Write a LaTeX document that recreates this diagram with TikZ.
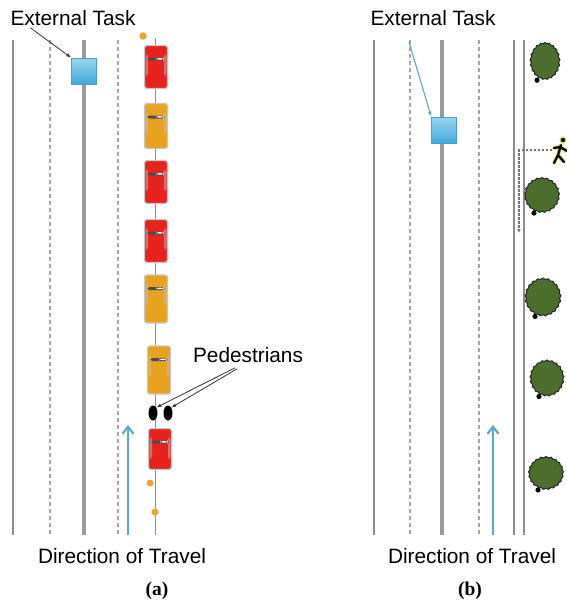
\documentclass[tikz,border=0pt]{standalone}
\usepackage{fontspec}
\setmainfont{Liberation Sans}
\newfontfamily\capfont{Liberation Serif}
\usetikzlibrary{arrows.meta,shapes.symbols,shapes.geometric,calc}

\definecolor{roadgray}{HTML}{8E8E8E}
\definecolor{centergray}{HTML}{9A9A9A}
\definecolor{carred}{HTML}{E8231E}
\definecolor{caryellow}{HTML}{E9A21F}
\definecolor{travelblue}{HTML}{5AA8CB}
\definecolor{boxtop}{HTML}{9AD6F2}
\definecolor{boxbottom}{HTML}{3FA9D8}
\definecolor{boxedge}{HTML}{4C9EC4}
\definecolor{treegreen}{HTML}{4B6E2C}
\definecolor{dotorange}{HTML}{F4A233}
\definecolor{walkeryellow}{HTML}{D8D040}

\tikzset{
  lbl/.style={font=\fontsize{20.8}{24}\selectfont, inner sep=0pt},
  caption/.style={font=\capfont\bfseries\fontsize{19.5}{22}\selectfont, inner sep=0pt},
  edge/.style={roadgray, line width=1.6pt},
  lanemark/.style={roadgray!80, line width=1.6pt, dash pattern=on 4pt off 3pt},
  median/.style={centergray, line width=4.5pt},
  carlink/.style={roadgray, line width=1pt},
  travel/.style={travelblue, line width=2.6pt, -{Straight Barb[length=7pt,width=11pt,line width=2.2pt]}},
  taskbox/.style={rectangle, minimum width=25pt, minimum height=26pt, inner sep=0pt,
    top color=boxtop, bottom color=boxbottom, draw=boxedge, line width=0.6pt},
  car/.style={rectangle, rounded corners=2.5pt, draw=black!22, line width=1.3pt,
    minimum width=23pt, minimum height=43pt, inner sep=0pt,
    path picture={
      \fill[black!25, opacity=0.5] ([xshift=1pt,yshift=-9pt]path picture bounding box.north west)
        rectangle ([xshift=3.5pt,yshift=-30pt]path picture bounding box.north west);
      \fill[black!25, opacity=0.5] ([xshift=-1pt,yshift=-9pt]path picture bounding box.north east)
        rectangle ([xshift=-3.5pt,yshift=-30pt]path picture bounding box.north east);
      \fill[black!70] ([xshift=3pt,yshift=-12pt]path picture bounding box.north west)
        rectangle ([xshift=-3pt,yshift=-15pt]path picture bounding box.north east);
      \fill[white] ([xshift=-11pt,yshift=-12.6pt]path picture bounding box.north east)
        rectangle ([xshift=-4pt,yshift=-14.2pt]path picture bounding box.north east);
    }},
  redcar/.style={car, fill=carred},
  yellowcar/.style={car, fill=caryellow},
  walkerdot/.style={ellipse, fill=black, minimum width=9pt, minimum height=15pt, inner sep=0pt},
  tree/.style={cloud, cloud puffs=21, cloud puff arc=120, aspect=0.95, fill=treegreen,
    draw=black!85, line width=1pt, minimum width=32pt, minimum height=35pt, inner sep=0pt},
  trunk/.style={fill=black},
  signal/.style={circle, fill=dotorange, inner sep=0pt, minimum size=7.5pt},
  pointer/.style={black!80, line width=0.8pt, -{Latex[length=5pt,width=3.5pt]}},
  route/.style={black!55, line width=1.2pt, dash pattern=on 2.5pt off 1.5pt, -{Latex[length=4pt,width=3.5pt]}},
}

\begin{document}
\begin{tikzpicture}[x=1pt, y=-1pt]
\useasboundingbox[fill=white] (0,0) rectangle (566,606);

% ---------------- left road ----------------
\draw[edge] (13,40) -- (13,535);
\draw[lanemark] (50,40) -- (50,535);
\draw[median] (84,40) -- (84,535);
\draw[lanemark] (118,40) -- (118,535);

% queue of cars on the curb lane, linked by a thin line
\coordinate (linkA) at (155,38);
\coordinate (linkB) at (155,535);
\draw[carlink] (linkA) -- (linkB);

\node[redcar]    (c1) at (156,67)  {};
\node[yellowcar, minimum height=45pt] (c2) at (156,126) {};
\node[redcar]    (c3) at (156,182) {};
\node[redcar]    (c4) at (156,241) {};
\node[yellowcar, minimum height=48pt] (c5) at (156,299) {};
\node[yellowcar, minimum height=48pt] (c6) at (159,370) {};
\node[redcar, minimum height=41pt]    (c7) at (160,449) {};

\node[signal] (s1) at (143,36) {};
\node[signal, minimum size=7pt] (s2) at (150,483) {};
\node[signal, minimum size=7pt] (s3) at (155,512) {};

% two pedestrians crossing between the cars
\node[walkerdot] (p1) at (153,413) {};
\node[walkerdot] (p2) at (168,413) {};

\node[lbl] (pedlbl) at (248,355) {Pedestrians};
\draw[pointer] ([xshift=-13pt,yshift=-5pt]pedlbl.south) -- (p1.north east);
\draw[pointer] ([xshift=-11pt,yshift=-6pt]pedlbl.south) -- (p2.north east);

% external task on the median
\node[taskbox] (taskA) at (84,71) {};
\node[lbl] (extA) at (73,18) {External Task};
\draw[pointer] ([xshift=20pt,yshift=-2pt]extA.south west) -- (taskA.north west);

% direction of travel
\coordinate (travA0) at (128,535);
\coordinate (travA1) at (128,425);
\draw[travel] (travA0) -- (travA1);

\node[lbl] (dirA) at (122,556) {Direction of Travel};
\node[caption] (capA) at (157,591) {(a)};

% ---------------- right road ----------------
\draw[edge] (374,40) -- (374,535);
\draw[lanemark] (410,40) -- (410,535);
\draw[median] (442,40) -- (442,535);
\draw[lanemark] (479,40) -- (479,535);
\draw[edge] (514,40) -- (514,535);
\draw[edge] (524,40) -- (524,535);

% trees along the sidewalk
\node[tree, minimum width=30pt, minimum height=37pt] (t1) at (545,61) {};
\node[tree, minimum width=35pt] (t2) at (542,195) {};
\node[tree, minimum width=36pt, minimum height=38pt] (t3) at (543,297) {};
\node[tree, minimum width=34pt, minimum height=36pt] (t4) at (547,378) {};
\node[tree, minimum width=35pt, minimum height=33pt] (t5) at (546,473) {};
\foreach \t in {t1,t2,t3,t4,t5}
  \fill[trunk] ([xshift=-8pt,yshift=-1pt]\t.south) circle (2.6pt);

% pedestrian walking onto the road
\coordinate (walker) at (552,150);
\foreach \w/\c in {3.6pt/walkeryellow, 2.2pt/black}{
  \draw[\c, line width=\w, line cap=round]
    (561,145) -- (558,155) (558,155) -- (554,163) (558,155) -- (564,162)
    (554,148) -- (560,147) -- (567,151);
  \fill[\c] (563,140) circle ({\w*0.95});
}
\coordinate (routeEnd) at (519,233);
\draw[route] (walker) -| (routeEnd);

% external task on the median
\node[taskbox] (taskB) at (444,130) {};
\node[lbl] (extB) at (433,18) {External Task};
\coordinate (taskBline) at (409,42);
\draw[travelblue, line width=1.1pt, -{Latex[length=5pt,width=4pt]}] (taskBline) -- (taskB.north west);

% direction of travel
\coordinate (travB0) at (493,535);
\coordinate (travB1) at (493,425);
\draw[travel] (travB0) -- (travB1);

\node[lbl] (dirB) at (472,556) {Direction of Travel};
\node[caption] (capB) at (470,591) {(b)};
\end{tikzpicture}
\end{document}
